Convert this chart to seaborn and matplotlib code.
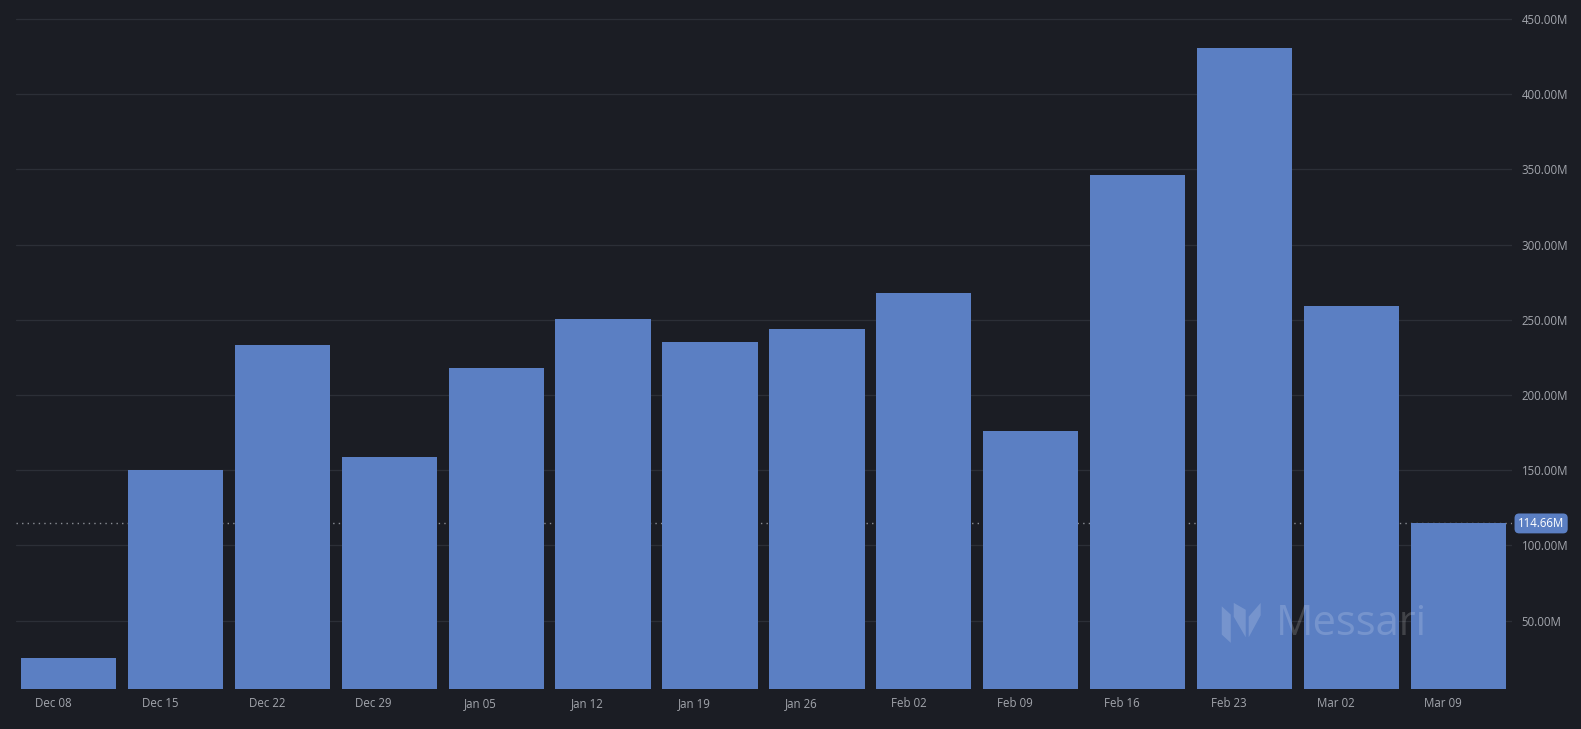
import matplotlib
matplotlib.use("Agg")
import matplotlib.pyplot as plt
import seaborn as sns
import pandas as pd
import numpy as np
from matplotlib.patches import Polygon

weeks = ["Dec 08", "Dec 15", "Dec 22", "Dec 29", "Jan 05", "Jan 12", "Jan 19",
         "Jan 26", "Feb 02", "Feb 09", "Feb 16", "Feb 23", "Mar 02", "Mar 09"]
values_m = [25.1, 150.5, 233.4, 158.5, 218.0, 250.4, 235.0,
            243.8, 268.0, 175.9, 346.5, 430.7, 259.5, 114.66]
y_ticks_m = [50, 100, 150, 200, 250, 300, 350, 400, 450]
last_label = "114.66M"

BG = "#1b1d24"
BAR = "#5b7fc3"
GRID = "#2c2f37"
TXT = "#a3a6ad"

sns.set_theme(style="dark")
plt.rcParams["font.family"] = ["Open Sans", "DejaVu Sans"]

df = pd.DataFrame({"week": weeks, "value": values_m})

fig = plt.figure(figsize=(15.81, 7.29), dpi=100, facecolor=BG)
ax = fig.add_axes([16 / 1581, 1 - 689 / 729, (1512 - 16) / 1581, 689 / 729])
ax.set_facecolor(BG)

for v in y_ticks_m:
    ax.axhline(v, color=GRID, lw=0.9, zorder=0)
ax.axhline(values_m[-1], color="#8a8d94", lw=1.0, ls=(0, (1, 3)), zorder=1)

sns.barplot(data=df, x="week", y="value", color=BAR, saturation=1,
            width=0.89, ax=ax, zorder=2, edgecolor="none")

ax.set_xlim(-0.49, 13.5)
ax.set_ylim(4.6, 462.6)
ax.set_xlabel("")
ax.set_ylabel("")
for s in ax.spines.values():
    s.set_visible(False)
ax.grid(False)

ax.set_xticks(np.arange(len(weeks)) - 0.145)
ax.set_xticklabels(weeks)
ax.tick_params(axis="x", colors=TXT, labelsize=8.3, length=3, width=0.8,
               pad=3, direction="out")
for t in ax.get_xticklines():
    t.set_color("#3a3d45")

ax.yaxis.tick_right()
ax.set_yticks(y_ticks_m)
ax.set_yticklabels([f"{v:.2f}M" for v in y_ticks_m])
ax.tick_params(axis="y", colors=TXT, labelsize=8.3, length=0, pad=7)

# last value label
ax.text(1.0 + 6 / 1496, values_m[-1], last_label, transform=ax.get_yaxis_transform(),
        ha="left", va="center", color="white", fontsize=8.3, zorder=5,
        bbox=dict(boxstyle="round,pad=0.3,rounding_size=0.4", fc=BAR, ec="none"),
        clip_on=False)

# watermark
ax.text(0.842, 0.095, "Messari", transform=ax.transAxes, ha="left", va="center",
        fontsize=30, color="white", alpha=0.17, zorder=4)
wx, wy = 0.806, 0.095
polys = [
    [(wx, wy + 0.025), (wx + 0.006, wy + 0.013), (wx + 0.006, wy - 0.028), (wx, wy - 0.016)],
    [(wx + 0.008, wy + 0.01), (wx + 0.016, wy - 0.02), (wx + 0.016, wy + 0.02), (wx + 0.008, wy + 0.03)],
    [(wx + 0.018, wy - 0.02), (wx + 0.026, wy + 0.012), (wx + 0.026, wy + 0.03), (wx + 0.018, wy + 0.01)],
]
for p in polys:
    ax.add_patch(Polygon(p, closed=True, transform=ax.transAxes, fc="white",
                         ec="none", alpha=0.17, zorder=4))

fig.savefig("out.png", dpi=100, facecolor=BG)
